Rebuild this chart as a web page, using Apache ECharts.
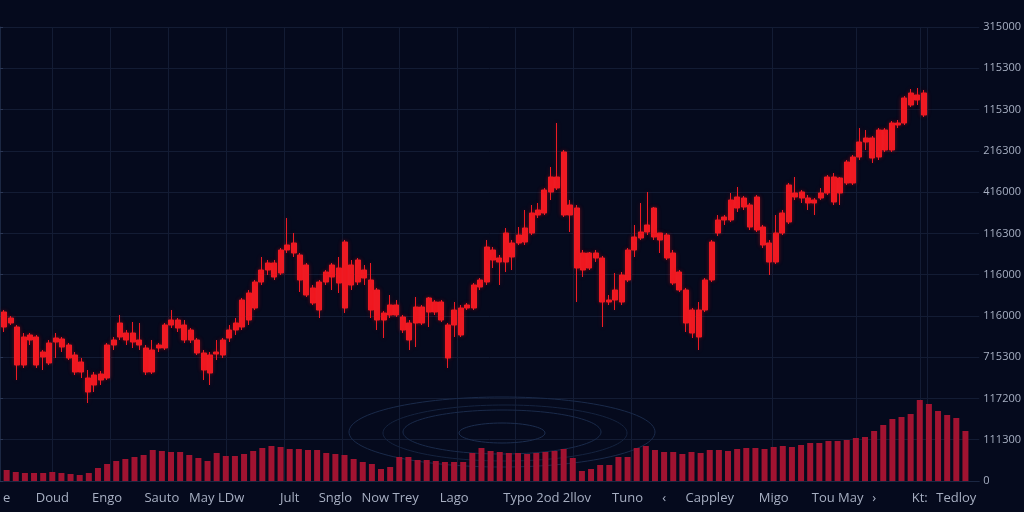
<!DOCTYPE html>
<html>
<head>
<meta charset="utf-8">
<script src="https://cdn.jsdelivr.net/npm/echarts@6/dist/echarts.min.js"></script>
<style>
html,body{margin:0;padding:0;background:#050a1c;}
#chart{width:1024px;height:512px;}
</style>
</head>
<body>
<div id="chart"></div>
<script>
// ---- candle data (price units) ----
const opens = [169,163,154,144,141,144,129,118,139,142,
136,126,119,103,96,101,103,136,144,148,
148,141,133,131,133,133,156,161,156,151,
141,128,126,127,126,143,151,154,161,173,
199,211,218,208,231,238,226,216,193,199,
199,204,213,173,216,199,211,201,191,168,
166,176,164,158,158,174,169,179,179,156,
156,173,173,173,194,199,221,223,219,238,
238,239,248,266,268,289,293,329,276,273,
228,213,223,223,181,181,179,201,231,243,
249,244,248,246,228,209,191,171,171,171,
201,248,261,261,273,283,276,251,254,238,
219,248,259,284,289,283,281,283,288,304,
288,298,298,324,339,343,324,331,331,356,
358,376,381,388];
const closes = [154,158,116,116,146,116,124,138,143,134,
123,109,109,89,106,107,136,141,158,141,
139,136,109,109,136,156,161,153,141,141,
128,111,108,129,141,151,158,181,188,199,
211,218,204,231,236,228,201,186,178,171,
209,216,198,239,196,221,203,171,161,161,
176,166,151,141,174,158,183,169,161,123,
171,146,176,196,201,234,231,219,248,224,
246,253,268,271,291,304,304,266,266,213,
211,228,228,179,179,191,206,231,244,249,
256,273,241,223,198,191,158,148,144,201,
239,261,264,281,284,274,254,284,236,219,
248,268,296,288,283,278,278,288,304,279,
303,319,324,339,343,323,351,351,358,358,
383,388,386,366];
const lows = [149,156,101,113,136,113,111,116,123,129,
121,106,103,78,89,96,101,131,141,136,
133,131,106,107,129,131,153,149,138,138,
126,101,96,121,123,139,146,151,156,171,
196,206,201,206,228,224,189,184,176,163,
196,191,188,168,191,196,196,163,151,143,
163,164,148,131,134,156,154,166,159,113,
144,144,171,171,191,196,213,196,209,211,
236,236,246,263,266,281,291,264,249,179,
204,211,219,154,176,171,176,199,224,241,
246,241,228,221,196,189,149,143,131,169,
199,245,256,259,269,271,251,249,233,206,
217,246,257,281,278,271,266,281,286,276,
276,296,296,321,331,318,321,329,329,353,
356,374,376,364];
const highs = [171,165,156,148,148,146,131,141,148,144,
138,129,123,111,109,110,138,144,166,151,
159,158,136,141,138,158,171,163,161,153,
143,131,129,141,143,156,163,183,191,201,
224,221,221,233,263,248,228,218,196,201,
211,218,224,241,221,223,216,218,193,170,
186,181,166,161,184,176,184,181,181,158,
179,176,178,198,203,241,234,226,253,241,
254,271,276,278,293,314,358,331,281,276,
231,229,231,225,186,208,209,233,256,278,
289,274,248,248,231,211,193,173,179,203,
241,266,266,288,294,285,278,286,256,241,
266,271,298,304,291,286,283,293,306,308,
304,321,326,353,351,345,353,353,360,361,
385,392,393,391];

// ---- volume data ----
const volumes = [11,9,8,8,8,9,8,7,6,8,
13,17,20,22,24,26,31,30,29,29,
26,23,20,28,25,25,27,30,33,35,
34,32,32,31,31,28,27,26,22,19,
17,12,14,24,24,21,21,20,19,19,
19,28,33,30,29,28,28,27,28,29,
30,32,23,10,12,16,16,24,24,33,
35,31,29,29,27,29,28,31,31,30,
32,33,33,32,34,35,34,36,38,38,
40,40,41,43,44,50,56,62,64,67,
81,77,70,66,63,50];

// ---- x tick labels (one per volume slot, blanks where no label) ----
const xLabelAt = {0:'e',5:'Doud',11:'Engo',17:'Sauto',23:'May LDw',31:'Jult',36:'Snglo',42:'Now Trey',
  49:'Lago',56:'Typo',61:'2od 2llov',68:'Tuno',72:'‹',77:'Cappley',84:'Migo',91:'Tou May',95:'›',100:'Kt:',104:'Tedloy'};
const xLabels = volumes.map((_, i) => xLabelAt[i] || '');

// ---- y tick labels, top to bottom ----
const yTickLabels = ['315000','115300','115300','216300','416000','116300','116000','116000','715300','117200','111300','0'];

const candleCats = opens.map((_, i) => String(i));
const candleData = opens.map((o, i) => [o, closes[i], lows[i], highs[i]]);

const vLineIdx = [8,17,26,35,44,53,62,71,80,89,98,120,133,143];
const txtColor = '#a7afc2';
const gridColor = '#131c34';

const chart = echarts.init(document.getElementById('chart'), null, {renderer:'canvas'});
chart.setOption({
  backgroundColor: '#050a1d',
  animation: false,
  textStyle: {fontFamily: 'Open Sans'},
  grid: [
    {left: 0, right: 44, top: 27, bottom: 31},
    {left: 1, width: 926, top: 27, bottom: 31},
    {left: 0, width: 970, top: 27, bottom: 31}
  ],
  xAxis: [
    {gridIndex: 0, type: 'value', min: 0, max: 1, axisLine: {show: true, lineStyle: {color: '#1b2742'}},
     axisTick: {show: false}, axisLabel: {show: false}, splitLine: {show: false}},
    {gridIndex: 1, type: 'category', data: candleCats, boundaryGap: true,
     axisLine: {show: false}, axisTick: {show: false}, axisLabel: {show: false},
     splitLine: {show: true, interval: (i) => vLineIdx.indexOf(i) >= 0, lineStyle: {color: gridColor, width: 1}}},
    {gridIndex: 2, type: 'category', data: xLabels, boundaryGap: true,
     axisLine: {show: false}, axisTick: {show: false},
     axisLabel: {interval: 0, color: txtColor, fontSize: 13, margin: 11, fontFamily: 'Open Sans'},
     splitLine: {show: false}}
  ],
  yAxis: [
    {gridIndex: 0, type: 'value', position: 'right', min: 0, max: 11, interval: 1,
     axisLine: {show: true, lineStyle: {color: '#1b2742'}},
     axisTick: {show: true, length: 3, lineStyle: {color: '#2a3654'}},
     axisLabel: {color: txtColor, fontSize: 11, margin: 4, fontFamily: 'Open Sans',
       formatter: (v) => yTickLabels[11 - Math.round(v)]},
     splitLine: {show: true, lineStyle: {color: gridColor, width: 1}}},
    {gridIndex: 1, type: 'value', min: 0, max: 454, show: false, splitLine: {show: false}},
    {gridIndex: 2, type: 'value', min: 0, max: 454, show: false, splitLine: {show: false}}
  ],
  graphic: [
    {type: 'ellipse', z: 1, silent: true, shape: {cx: 502, cy: 432, rx: 153, ry: 35}, style: {fill: 'none', stroke: '#1a2a4a', lineWidth: 1}},
    {type: 'ellipse', z: 1, silent: true, shape: {cx: 505, cy: 433, rx: 122, ry: 28}, style: {fill: 'none', stroke: '#15233f', lineWidth: 1}},
    {type: 'ellipse', z: 1, silent: true, shape: {cx: 502, cy: 432, rx: 99, ry: 22}, style: {fill: 'none', stroke: '#1a2a4a', lineWidth: 1}},
    {type: 'ellipse', z: 1, silent: true, shape: {cx: 502, cy: 433, rx: 43, ry: 10}, style: {fill: 'none', stroke: '#1c2d4e', lineWidth: 1}}
  ],
  series: [
    {type: 'bar', name: 'Volume', xAxisIndex: 2, yAxisIndex: 2, data: volumes, barWidth: 6,
     itemStyle: {color: '#a11331'}, z: 2},
    {type: 'candlestick', name: 'Price', xAxisIndex: 1, yAxisIndex: 1, data: candleData, barWidth: 5.5,
     itemStyle: {color: '#ee1b24', color0: '#ee1b24', borderColor: '#ee1b24', borderColor0: '#ee1b24', borderWidth: 1,
       shadowBlur: 4, shadowColor: 'rgba(255,20,20,0.35)'}, z: 3}
  ]
});
</script>
</body>
</html>
